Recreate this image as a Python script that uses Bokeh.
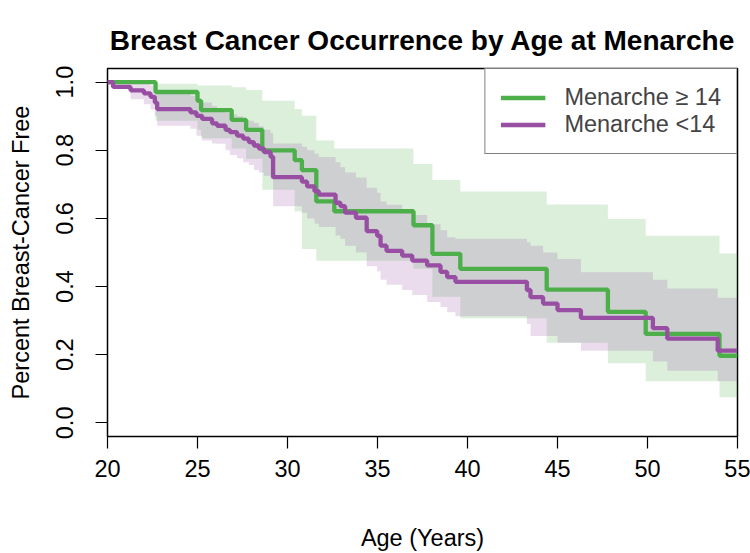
from bokeh.plotting import figure
from bokeh.models import Range1d, FixedTicker, PrintfTickFormatter, Legend, LegendItem
from bokeh.embed import file_html
from bokeh.resources import INLINE

# ---- data ----
# Menarche >= 14 (green) Kaplan-Meier step curve and its confidence band
green_x = [20, 22.67, 25.0, 25.2, 26.9, 27.7, 28.6, 30.4, 30.8, 31.6, 32.6, 37.0, 38.05, 39.6, 44.4, 47.8, 49.9, 54.0, 55]
green_y = [1.0, 0.971, 0.945, 0.918, 0.889, 0.86, 0.80, 0.771, 0.742, 0.65, 0.621, 0.58, 0.496, 0.452, 0.391, 0.326, 0.261, 0.197, 0.197]
green_hi = [1.0, 0.995, 0.99, 0.99, 0.985, 0.977, 0.945, 0.921, 0.901, 0.829, 0.805, 0.76, 0.713, 0.679, 0.641, 0.598, 0.549, 0.497, 0.497]
green_lo = [1.0, 0.887, 0.86, 0.835, 0.805, 0.775, 0.684, 0.62, 0.51, 0.476, 0.476, 0.452, 0.37, 0.307, 0.235, 0.175, 0.122, 0.075, 0.075]

# Menarche < 14 (purple)
purple_x = [20, 20.31, 21.28, 22.02, 22.39, 22.63, 22.76, 24.61, 24.94, 25.26, 25.81, 26.09, 26.56, 26.8,
            27.2, 27.54, 27.85, 28.13, 28.41, 28.69, 29.06, 29.2, 30.8, 31.09, 31.5, 31.74, 32.67, 32.94,
            33.2, 33.8, 34.4, 34.98, 35.17, 35.5, 36.37, 36.93, 37.76, 38.5, 38.87, 39.33, 43.3, 43.5,
            44.2, 45.0, 46.3, 50.3, 51.1, 53.9, 55]
purple_y = [1.0, 0.986, 0.976, 0.967, 0.957, 0.94, 0.921, 0.911, 0.901, 0.892, 0.879, 0.872, 0.86, 0.853,
            0.843, 0.834, 0.824, 0.814, 0.805, 0.795, 0.781, 0.721, 0.708, 0.694, 0.68, 0.67, 0.646, 0.636,
            0.617, 0.602, 0.563, 0.549, 0.52, 0.505, 0.491, 0.476, 0.462, 0.443, 0.428, 0.414, 0.39, 0.369,
            0.35, 0.331, 0.308, 0.278, 0.247, 0.212, 0.212]
purple_hi = [1.0, 1.0, 1.0, 0.995, 0.99, 0.98, 0.97, 0.96, 0.95, 0.94, 0.93, 0.92, 0.91, 0.905,
             0.90, 0.89, 0.887, 0.88, 0.87, 0.86, 0.85, 0.82, 0.81, 0.80, 0.79, 0.78, 0.765, 0.75,
             0.735, 0.72, 0.69, 0.675, 0.65, 0.64, 0.626, 0.61, 0.583, 0.565, 0.545, 0.54, 0.53, 0.52,
             0.50, 0.481, 0.442, 0.42, 0.394, 0.367, 0.367]
purple_lo = [1.0, 0.983, 0.95, 0.935, 0.92, 0.90, 0.872, 0.863, 0.843, 0.829, 0.82, 0.819, 0.80, 0.786,
             0.776, 0.765, 0.757, 0.742, 0.735, 0.725, 0.715, 0.636, 0.617, 0.60, 0.585, 0.575, 0.55, 0.54,
             0.52, 0.50, 0.46, 0.445, 0.42, 0.405, 0.39, 0.375, 0.355, 0.34, 0.325, 0.313, 0.29, 0.255,
             0.255, 0.235, 0.212, 0.18, 0.153, 0.122, 0.122]

x_ticks = [20, 25, 30, 35, 40, 45, 50, 55]
y_ticks = [0.0, 0.2, 0.4, 0.6, 0.8, 1.0]
labels = ["Menarche \u2265 14", "Menarche <14"]
title_text = "Breast Cancer Occurrence by Age at Menarche"

GREEN = "#4DAF4A"
PURPLE = "#984EA3"
FONT = "Liberation Sans"

p = figure(width=750, height=553, output_backend="svg", toolbar_location=None,
           x_range=Range1d(20, 55), y_range=Range1d(-0.04, 1.04),
           min_border_left=107, min_border_right=13, min_border_top=68, min_border_bottom=113)

p.title.text = title_text
p.title.text_font = FONT
p.title.text_font_size = "28px"
p.title.text_font_style = "bold"
p.title.align = "center"
p.title.text_color = "black"
p.title.standoff = 26

p.grid.visible = False
p.outline_line_color = "black"
p.outline_line_width = 1.5
p.background_fill_color = "white"
p.border_fill_color = "white"

# bands
p.varea_step(x=green_x, y1=green_lo, y2=green_hi, step_mode="after", fill_color=GREEN, fill_alpha=0.2)
p.varea_step(x=purple_x, y1=purple_lo, y2=purple_hi, step_mode="after", fill_color=PURPLE, fill_alpha=0.2)

# curves
g_line = p.step(x=green_x, y=green_y, mode="after", line_color=GREEN, line_width=4.3)
p_line = p.step(x=purple_x, y=purple_y, mode="after", line_color=PURPLE, line_width=4.3)

# axes
for ax in (p.xaxis[0], p.yaxis[0]):
    ax.axis_line_color = None
    ax.major_tick_line_color = "black"
    ax.major_tick_line_width = 1.2
    ax.major_tick_out = 12
    ax.major_tick_in = 0
    ax.minor_tick_line_color = None
    ax.major_label_text_font = FONT
    ax.major_label_text_font_size = "23.5px"
    ax.major_label_text_color = "black"
    ax.axis_label_text_font = FONT
    ax.axis_label_text_font_size = "23.5px"
    ax.axis_label_text_font_style = "normal"
    ax.axis_label_text_color = "black"

p.xaxis.ticker = FixedTicker(ticks=x_ticks)
p.yaxis.ticker = FixedTicker(ticks=y_ticks)
p.yaxis.formatter = PrintfTickFormatter(format="%.1f")
p.yaxis.major_label_orientation = "vertical"
p.xaxis.axis_label = "Age (Years)"
p.yaxis.axis_label = "Percent Breast-Cancer Free"
p.xaxis.major_label_standoff = 11
p.xaxis.axis_label_standoff = 45
p.yaxis.major_label_standoff = 22
p.yaxis.axis_label_standoff = 20

legend = Legend(items=[LegendItem(label=labels[0], renderers=[g_line]),
                       LegendItem(label=labels[1], renderers=[p_line])],
                location="top_right", margin=0, padding=15, spacing=0,
                glyph_width=45, glyph_height=27, label_height=27, label_standoff=19,
                label_text_font=FONT, label_text_font_size="23.5px",
                border_line_color="black", border_line_width=1.2,
                background_fill_color="white", background_fill_alpha=1.0)
p.add_layout(legend)

open("out.html", "w").write(file_html(p, INLINE))
